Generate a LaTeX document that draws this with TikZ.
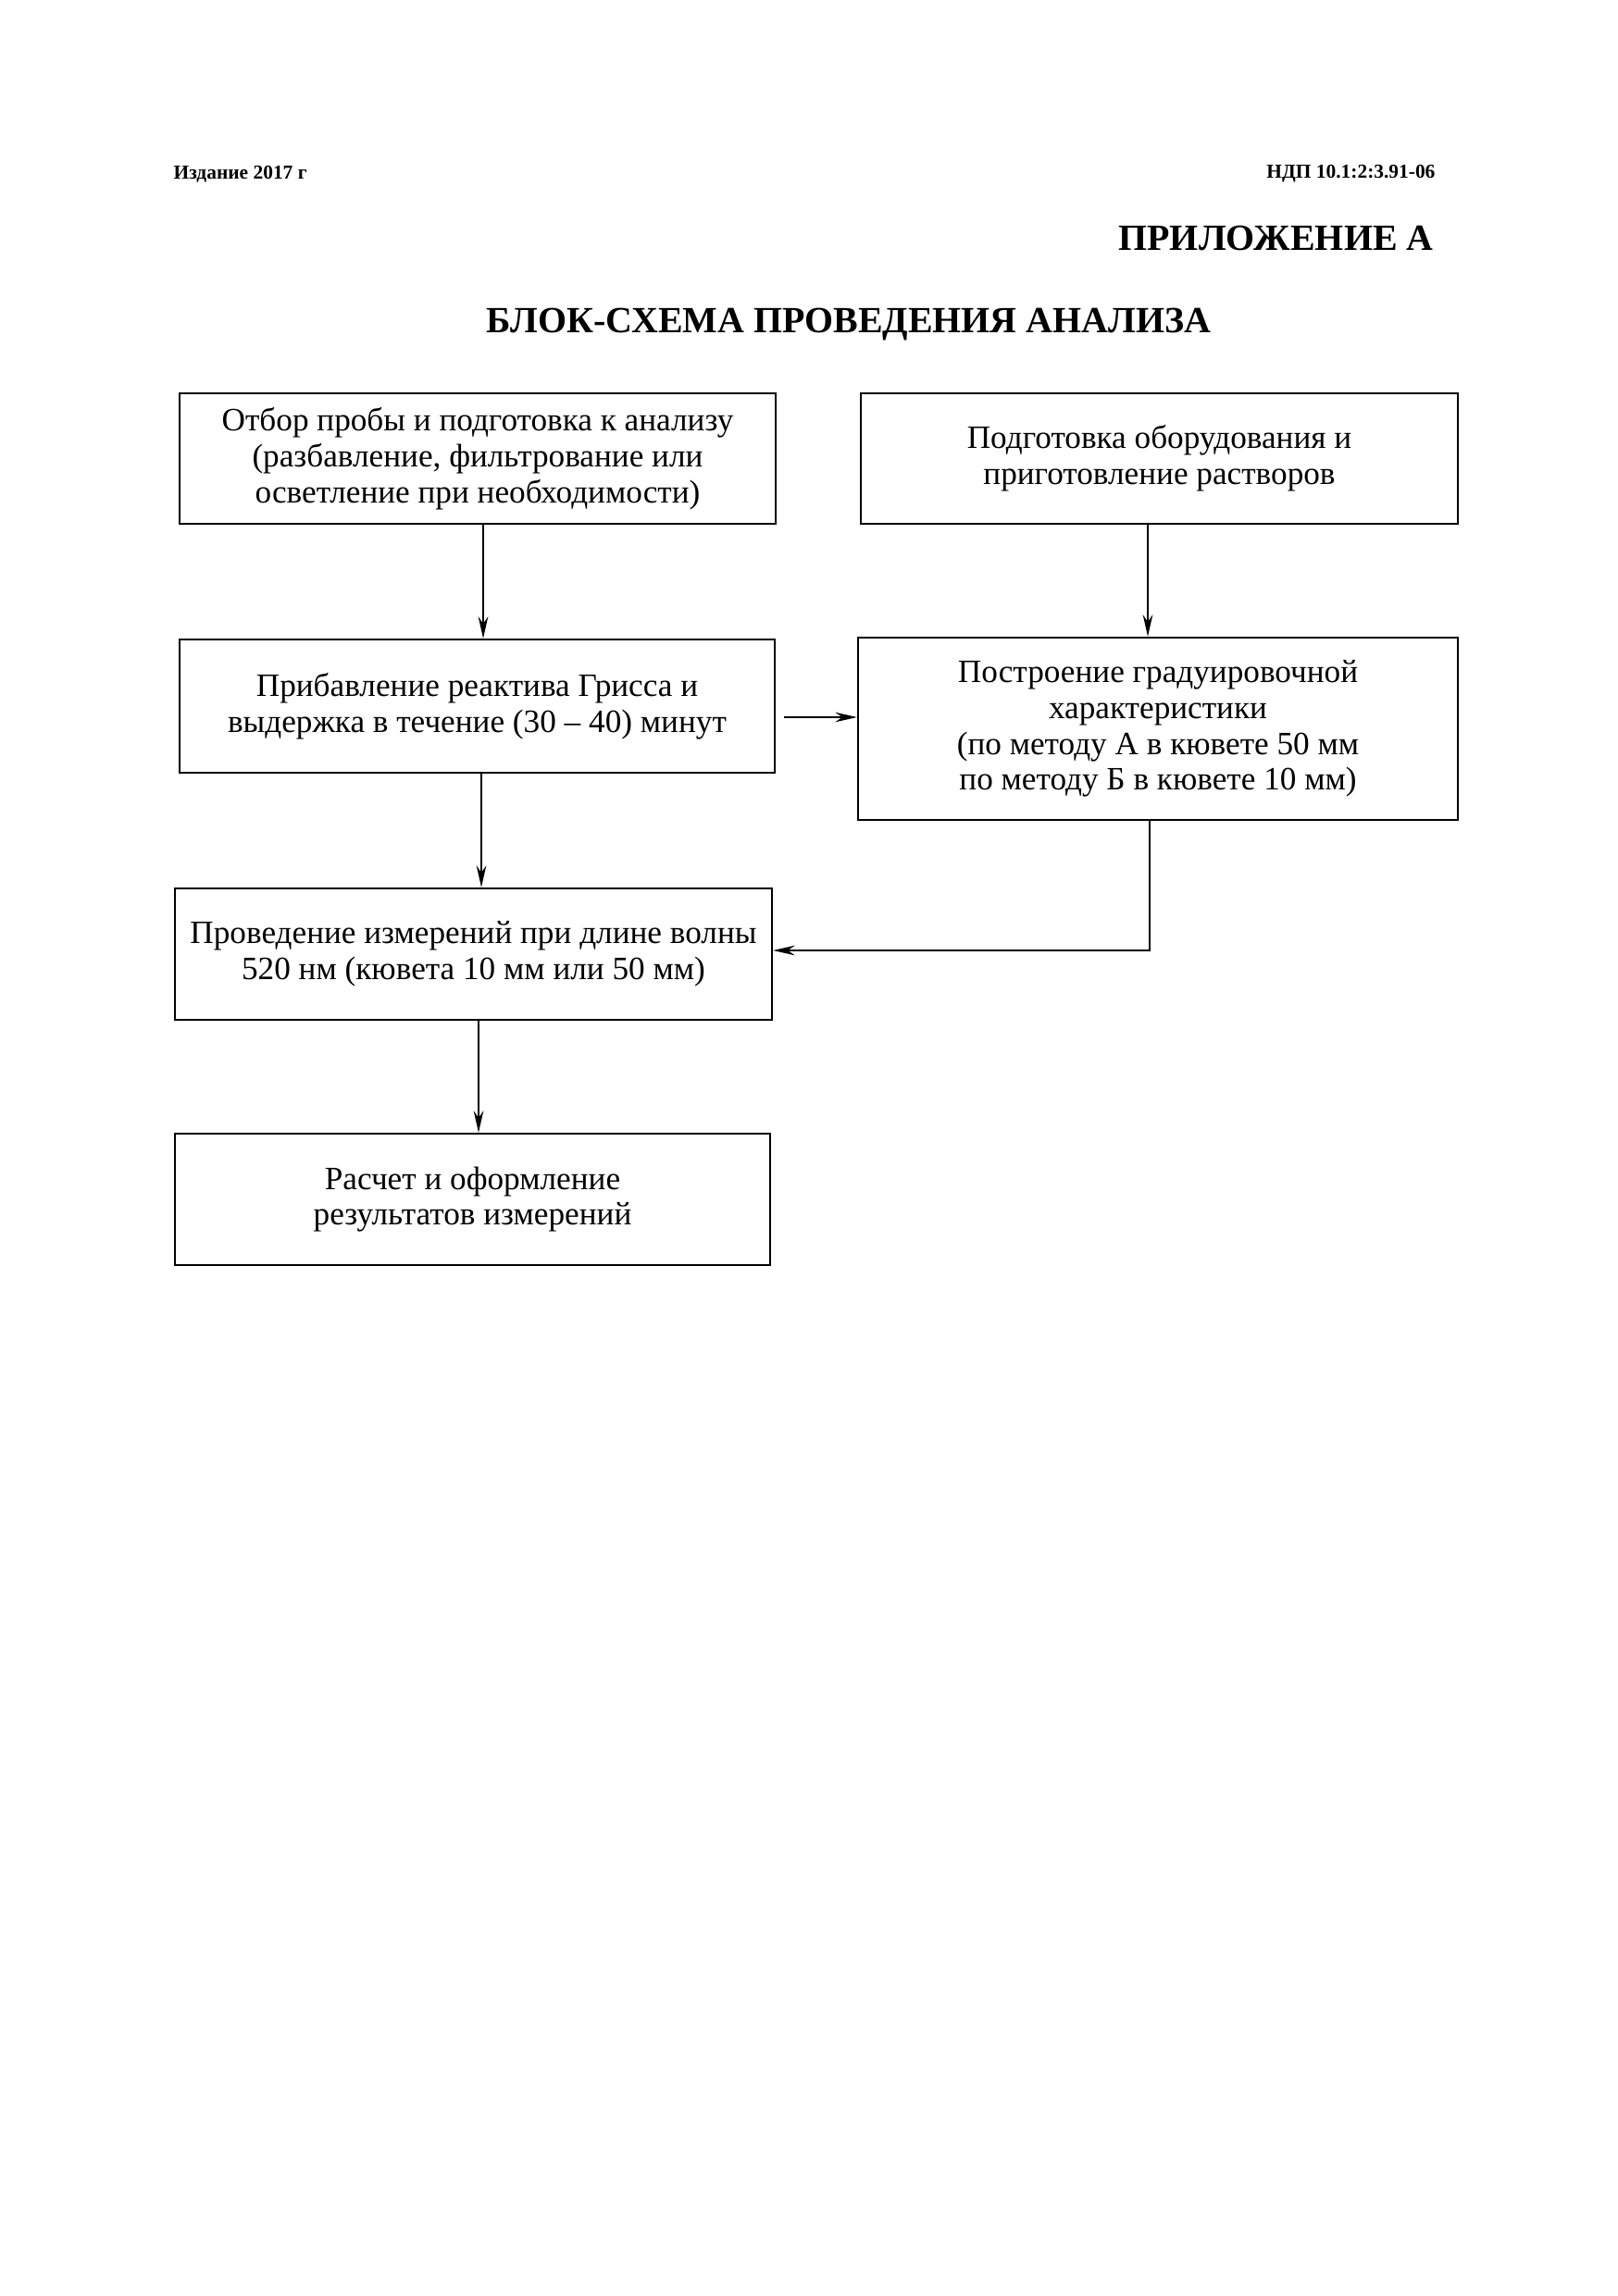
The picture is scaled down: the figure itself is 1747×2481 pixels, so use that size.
\documentclass[tikz,border=0pt]{standalone}
\usepackage{fontspec}
\setmainfont{Liberation Serif}
\usetikzlibrary{arrows.meta}
\begin{document}
\begin{tikzpicture}[x=0.3407pt,y=-0.3407pt,
  box/.style={draw,line width=0.8pt,rectangle,align=center,inner sep=0pt,
    font=\fontsize{12}{13.2}\selectfont},
  hdr/.style={inner sep=0pt,font=\bfseries\fontsize{7.3}{9}\selectfont},
  ttl/.style={inner sep=0pt,font=\bfseries\fontsize{13.6}{16}\selectfont},
  arr/.style={line width=0.7pt,-{Stealth[length=8pt,width=3.6pt]}}]
\useasboundingbox (0,0) rectangle (1747,2481);
\node[hdr,anchor=west] (ed) at (187,188) {Издание 2017 г};
\node[hdr,anchor=east] (nd) at (1551,188) {НДП 10.1:2:3.91-06};
\node[ttl,anchor=east] (pr) at (1549,257) {ПРИЛОЖЕНИЕ А};
\node[ttl] (ti) at (917,351) {БЛОК-СХЕМА ПРОВЕДЕНИЯ АНАЛИЗА};

\node[box,minimum width=644*0.3407pt,minimum height=141*0.3407pt] (b1) at (516,495.5)
  {Отбор пробы и подготовка к анализу\\(разбавление, фильтрование или\\осветление при необходимости)};
\node[box,minimum width=645*0.3407pt,minimum height=141*0.3407pt] (b2) at (1252.5,495.5)
  {Подготовка оборудования и\\приготовление растворов};
\node[box,minimum width=643*0.3407pt,minimum height=144*0.3407pt] (b3) at (515.5,763)
  {Прибавление реактива Грисса и\\выдержка в течение (30 -- 40) минут};
\node[box,minimum width=648*0.3407pt,minimum height=197*0.3407pt] (b4) at (1251,787.5)
  {Построение градуировочной\\характеристики\\(по методу А в кювете 50 мм\\по методу Б в кювете 10 мм)};
\node[box,minimum width=645*0.3407pt,minimum height=142*0.3407pt] (b5) at (511.5,1031)
  {Проведение измерений при длине волны\\520 нм (кювета 10 мм или 50 мм)};
\node[box,minimum width=643*0.3407pt,minimum height=142*0.3407pt] (b6) at (510.5,1296)
  {Расчет и оформление\\результатов измерений};

\draw[arr] (522,0 |- b1.south) -- (522,0 |- b3.north);
\draw[arr] (1240,0 |- b2.south) -- (1240,0 |- b4.north);
\draw[arr] ([xshift=3pt]b3.east |- 0,775) -- (b4.west |- 0,775);
\draw[arr] (520,0 |- b3.south) -- (520,0 |- b5.north);
\draw[arr] (1242,0 |- b4.south) |- (b5.east |- 0,1027);
\draw[arr] (517,0 |- b5.south) -- (517,0 |- b6.north);
\end{tikzpicture}
\end{document}
